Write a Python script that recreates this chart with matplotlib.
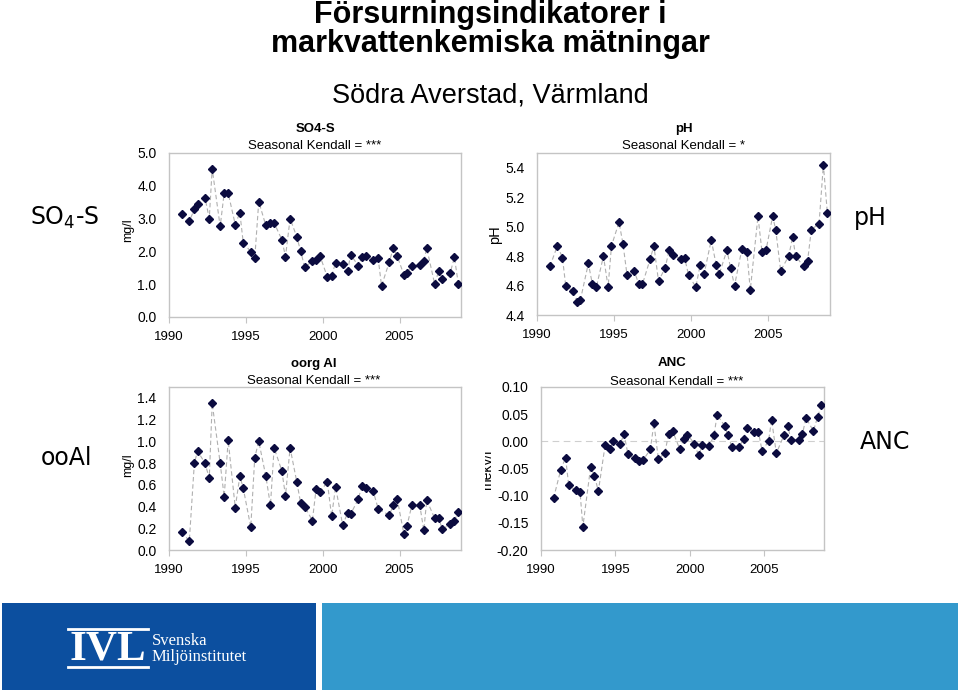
import matplotlib
matplotlib.use('Agg')
import matplotlib.pyplot as plt
import numpy as np
from matplotlib.patches import Rectangle
from matplotlib.lines import Line2D

plt.rcParams['font.family'] = ['Liberation Sans', 'DejaVu Sans']
plt.rcParams['mathtext.fontset'] = 'dejavusans'

# ---------------- data ----------------
dates = [1990.84, 1991.32, 1991.65, 1991.86, 1992.34, 1992.62, 1992.81, 1993.33, 1993.59, 1993.85,
         1994.31, 1994.61, 1994.83, 1995.32, 1995.58, 1995.84, 1996.30, 1996.60, 1996.84, 1997.34,
         1997.58, 1997.88, 1998.31, 1998.57, 1998.83, 1999.33, 1999.57, 1999.83, 2000.30, 2000.58,
         2000.84, 2001.30, 2001.62, 2001.82, 2002.32, 2002.55, 2002.81, 2003.29, 2003.61, 2003.83,
         2004.33, 2004.59, 2004.85, 2005.28, 2005.48, 2005.80, 2006.32, 2006.58, 2006.77, 2007.29,
         2007.55, 2007.79, 2008.29, 2008.57, 2008.83]

so4 = [3.15, 2.92, 3.28, 3.45, 3.64, 3.00, 4.52, 2.76, 3.78, 3.78,
       2.82, 3.18, 2.27, 1.99, 1.79, 3.52, 2.79, 2.87, 2.87, 2.36,
       1.84, 3.00, 2.45, 2.00, 1.52, 1.70, 1.73, 1.86, 1.22, 1.25,
       1.66, 1.62, 1.40, 1.90, 1.56, 1.83, 1.86, 1.73, 1.79, 0.95,
       1.67, 2.10, 1.86, 1.29, 1.35, 1.56, 1.58, 1.70, 2.10, 1.00,
       1.41, 1.15, 1.33, 1.82, 1.00]

ph = [4.73, 4.87, 4.79, 4.60, 4.56, 4.49, 4.50, 4.75, 4.61, 4.59,
      4.80, 4.59, 4.87, 5.03, 4.88, 4.67, 4.70, 4.61, 4.61, 4.78,
      4.87, 4.63, 4.72, 4.84, 4.81, 4.78, 4.79, 4.67, 4.59, 4.74,
      4.68, 4.91, 4.74, 4.68, 4.84, 4.72, 4.60, 4.85, 4.83, 4.57,
      5.07, 4.83, 4.84, 5.07, 4.98, 4.70, 4.80, 4.93, 4.80, 4.73,
      4.77, 4.98, 5.02, 5.42, 5.09]

oorg_al = [0.17, 0.08, 0.80, 0.91, 0.80, 0.66, 1.35, 0.80, 0.49, 1.01,
           0.39, 0.68, 0.57, 0.21, 0.85, 1.00, 0.68, 0.41, 0.94, 0.73,
           0.50, 0.94, 0.63, 0.43, 0.40, 0.27, 0.56, 0.53, 0.63, 0.31,
           0.58, 0.23, 0.34, 0.33, 0.47, 0.59, 0.57, 0.54, 0.38, None,
           0.32, 0.41, 0.47, 0.15, 0.22, 0.41, 0.41, 0.18, 0.46, 0.29,
           0.29, 0.19, 0.24, 0.27, 0.35]

anc = [-0.105, -0.053, -0.030, -0.081, -0.090, -0.093, -0.157, -0.048, -0.063, -0.092,
       -0.006, -0.014, 0.000, -0.004, 0.013, -0.024, -0.031, -0.037, -0.035, -0.015,
       0.033, -0.032, -0.022, 0.014, 0.019, -0.015, 0.005, 0.012, -0.004, -0.026,
       -0.006, -0.008, 0.011, 0.049, 0.029, 0.011, -0.010, -0.011, 0.005, 0.025,
       0.018, 0.018, -0.018, 0.001, 0.040, -0.022, 0.012, 0.028, 0.003, 0.003,
       0.013, 0.043, 0.019, 0.045, 0.067]

xticks = [1990, 1995, 2000, 2005]

W, H = 960, 692
fig = plt.figure(figsize=(W / 100, H / 100), dpi=100)


def fx(x):
    return x / W


def fy(y):
    return 1 - y / H


def rect(x0, y0, x1, y1):
    return [fx(x0), fy(y1), fx(x1) - fx(x0), fy(y0) - fy(y1)]


GRAY = '#c4c4c4'
NAVY = '#0b0b3f'


def panel(r, vals, ylim, yticks, fmt, zero=False):
    ax = fig.add_axes(r)
    d = np.array(dates, float)
    v = np.array([np.nan if a is None else a for a in vals], float)
    m = ~np.isnan(v)
    if zero:
        ax.axhline(0, color='#cfcfcf', lw=0.8, ls=(0, (6, 4)), zorder=0)
    ax.plot(d[m], v[m], ls=(0, (4, 2.5)), color='#b0b0b0', lw=0.8, zorder=1)
    ax.plot(d[m], v[m], ls='none', marker='D', ms=4.0, color=NAVY, zorder=3)
    ax.set_xlim(1990, 2009)
    ax.set_ylim(*ylim)
    ax.set_xticks(xticks)
    ax.set_xticklabels([str(t) for t in xticks], fontsize=9.5)
    ax.set_yticks(yticks)
    ax.set_yticklabels([fmt % t for t in yticks], fontsize=10)
    for s in ax.spines.values():
        s.set_color(GRAY)
        s.set_linewidth(1.0)
    ax.tick_params(axis='x', direction='out', length=4, color=GRAY, pad=6)
    ax.tick_params(axis='y', direction='out', length=0, color=GRAY, pad=9)
    return ax


ax1 = panel(rect(169, 153, 461, 317), so4, (0, 5), [0, 1, 2, 3, 4, 5], '%.1f')
ax2 = panel(rect(537, 153, 830, 315), ph, (4.4, 5.5), [4.4, 4.6, 4.8, 5.0, 5.2, 5.4], '%.1f')
ax3 = panel(rect(169, 387, 461, 550), oorg_al, (0, 1.5), [0, 0.2, 0.4, 0.6, 0.8, 1.0, 1.2, 1.4], '%.1f')
ax4 = panel(rect(541, 387, 824, 550), anc, (-0.2, 0.1), [-0.2, -0.15, -0.1, -0.05, 0.0, 0.05, 0.1], '%.2f',
            zero=True)


def t(x, y, s, **kw):
    fig.text(fx(x), fy(y), s, ha=kw.pop('ha', 'center'), va=kw.pop('va', 'center'), **kw)


# main titles
t(490, 23, 'Försurningsindikatorer i', fontsize=22, fontweight='bold', va='baseline')
t(490, 52, 'markvattenkemiska mätningar', fontsize=22, fontweight='bold', va='baseline')
t(490, 96, 'Södra Averstad, Värmland', fontsize=19.5)

# panel titles
t(315, 129, 'SO4-S', fontsize=9.5, fontweight='bold')
t(315, 146, 'Seasonal Kendall = ***', fontsize=9.5)
t(684, 129, 'pH', fontsize=9.5, fontweight='bold')
t(684, 146, 'Seasonal Kendall = *', fontsize=9.5)
t(314, 364, 'oorg Al', fontsize=9.5, fontweight='bold')
t(314, 381, 'Seasonal Kendall = ***', fontsize=9.5)
t(672, 363, 'ANC', fontsize=9.5, fontweight='bold')
t(677, 382, 'Seasonal Kendall = ***', fontsize=9.5)

# axis labels
t(128, 230, 'mg/l', fontsize=9, rotation=90)
t(128, 465, 'mg/l', fontsize=9, rotation=90)
t(495, 235, 'pH', fontsize=10.5, rotation=90)
t(487, 470, 'mekv/l', fontsize=10, rotation=90, zorder=1)
fig.patches.append(Rectangle((fx(470), fy(500)), fx(485) - fx(470), fy(440) - fy(500),
                             transform=fig.transFigure, facecolor='white', edgecolor='none', zorder=5))

# big side labels
t(65, 218, r'SO$_4$-S', fontsize=17, family='DejaVu Sans')
t(66, 458, 'ooAl', fontsize=17, family='DejaVu Sans')
t(870, 218, 'pH', fontsize=17, family='DejaVu Sans')
t(885, 442, 'ANC', fontsize=17, family='DejaVu Sans')

# footer
fig.patches.append(Rectangle((fx(2), fy(690)), fx(316) - fx(2), fy(603) - fy(690),
                             transform=fig.transFigure, facecolor='#0c4f9f', edgecolor='none', zorder=0))
fig.patches.append(Rectangle((fx(322), fy(690)), fx(958) - fx(322), fy(603) - fy(690),
                             transform=fig.transFigure, facecolor='#3399cc', edgecolor='none', zorder=0))
for yy in (629, 667):
    fig.lines.append(Line2D([fx(68), fx(148)], [fy(yy), fy(yy)], transform=fig.transFigure,
                            color='white', lw=2, zorder=2))
t(108, 649, 'IVL', fontsize=31, family='Liberation Serif', fontweight='bold', color='white')
t(152, 641, 'Svenska', fontsize=12, family='Liberation Serif', color='white', ha='left')
t(152, 657, 'Miljöinstitutet', fontsize=12, family='Liberation Serif', color='white', ha='left')

fig.savefig('out.png', dpi=100)
